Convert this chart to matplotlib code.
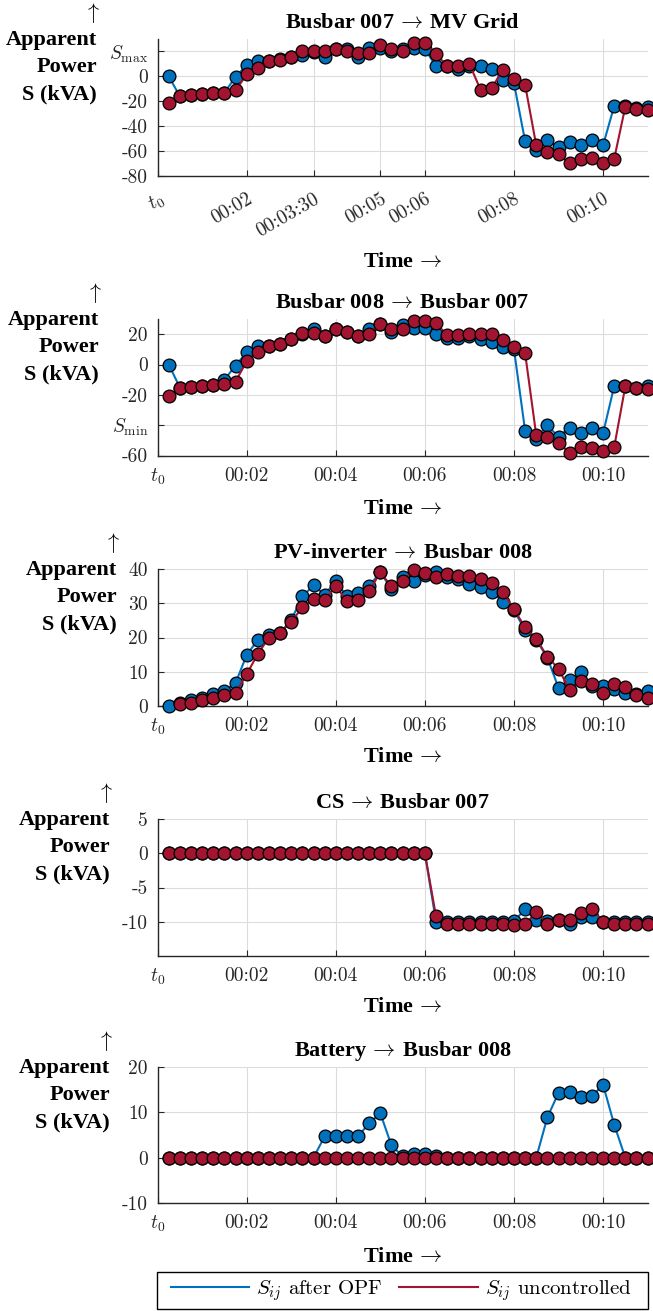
import numpy as np
import matplotlib
matplotlib.use("Agg")
import matplotlib.pyplot as plt
from matplotlib.lines import Line2D
from matplotlib.patches import Rectangle

# time axis: one sample every 15 s, in minutes
minutes = np.arange(1, 45) * 0.25

titles = [r"Busbar 007$\,\rightarrow\,$MV Grid", r"Busbar 008$\,\rightarrow\,$Busbar 007",
          r"PV-inverter$\,\rightarrow\,$Busbar 008", r"CS$\,\rightarrow\,$Busbar 007",
          r"Battery$\,\rightarrow\,$Busbar 008"]

# S_ij after OPF / S_ij uncontrolled (kVA)
bus7_grid_opf = [0, -16, -15, -14, -13.5, -13, -0.5, 9, 12, 12, 14, 15.7, 16.8, 19.7, 15.7,
                 22, 22, 15.7, 22.7, 22.7, 20, 22, 23, 22, 8, 8, 6, 8, 8.6, 6, -2.7, -5.4,
                 -52, -59.5, -51.4, -56.8, -52.7, -55.4, -51.4, -55.4, -23.8, -24, -25.5, -24.3]
bus7_grid_unc = [-21, -16, -15, -14, -13.5, -13, -11.3, 1.5, 7, 12, 13.5, 15.5, 20, 20, 20,
                 22, 20, 19, 19, 25, 22, 20, 27, 27, 17.6, 8.6, 8.6, 10, -10.8, -9.5, 5.4, -2,
                 -6.8, -55.4, -60.8, -62.7, -69.7, -66, -65.4, -69.7, -66.2, -24.3, -26.2, -27]

bus8_bus7_opf = [0, -15.2, -15, -14.3, -13.8, -10, -0.7, 8, 12.4, 12.4, 13.5, 17, 20, 23.6, 18.9,
                 23.6, 21.3, 19, 23.6, 26.8, 21.3, 26, 24, 24, 20, 17.7, 17.7, 18.9, 17, 15, 11.4,
                 10.2, -43.6, -48.9, -40.2, -47.7, -41.6, -45, -42, -45.4, -14.3, -14, -15.5, -14.3]
bus8_bus7_unc = [-20.7, -15.2, -15, -14.3, -13.8, -13, -11.3, 2.2, 8, 12.4, 13.5, 17, 21, 21, 18.9,
                 23.6, 21.3, 19, 20, 26.8, 23.6, 23.6, 28.4, 28.4, 27.3, 19.3, 19.3, 19.8, 19.8,
                 19.8, 16.4, 11.4, 7.5, -46.6, -47.7, -51.6, -58.4, -54.5, -55, -56.8, -54.5,
                 -14.3, -15.5, -16.4]

pv_opf = [0, 0.9, 1.7, 2.4, 3.4, 4.4, 6.7, 14.9, 19.3, 20.7, 21.4, 25.1, 32, 35.2, 32.5, 36.4,
          32, 33.1, 35.1, 39, 34.2, 37.6, 36.4, 38.3, 39.1, 37.8, 37, 35.6, 34.6, 33.4, 30.5,
          27.9, 22.2, 19.3, 14.1, 5.3, 7.5, 9.8, 5.9, 5.9, 5.1, 3.8, 3.6, 4.4]
pv_unc = [np.nan, 0.5, 0.9, 1.7, 2.2, 3.1, 3.8, 9.3, 15.2, 20, 21.4, 24.6, 28.8, 31.3, 31, 34.9,
          30.7, 31, 33.6, 39, 34.9, 36.4, 39.6, 38.8, 37.8, 38.6, 38, 38.1, 37.1, 35.9, 33.4,
          28.2, 23, 19.6, 14.4, 10.9, 4.6, 7.2, 6.5, 3.8, 6.5, 5.6, 3.3, 2.3]

cs_opf = [0, 0, 0, 0, 0, 0, 0, 0, 0, 0, 0, 0, 0, 0, 0, 0, 0, 0, 0, 0, 0, 0, 0, 0,
          -10, -10, -10, -10, -10, -10, -10, -9.9, -8.2, -9.8, -9.9, -9.7, -10.3, -9.3, -9.3,
          -10, -10, -10, -10, -10]
cs_unc = [0, 0, 0, 0, 0, 0, 0, 0, 0, 0, 0, 0, 0, 0, 0, 0, 0, 0, 0, 0, 0, 0, 0, 0,
          -9.2, -10.4, -10.4, -10.4, -10.4, -10.4, -10.4, -10.5, -10.4, -8.6, -10.3, -9.8, -9.7,
          -8.7, -8.2, -10, -10.4, -10.4, -10.4, -10.4]

bat_opf = [0, 0, 0, 0, 0, 0, 0, 0, 0, 0, 0, 0, 0, 0, 4.7, 4.7, 4.7, 4.7, 7.6, 9.8, 2.7, 0.3,
           0.8, 0.8, 0.3, 0, 0, 0, 0, 0, 0, 0, 0, 0, 8.9, 14.3, 14.4, 13.3, 13.5, 16.1, 7.3, 0, 0, 0]
bat_unc = [0, 0, 0, 0, 0, 0, 0, 0, 0, 0, 0, 0, 0, 0, 0, 0, 0, 0, 0, 0, 0, 0,
           0, 0, 0, 0, 0, 0, 0, 0, 0, 0, 0, 0, 0, 0, 0, 0, 0, 0, 0, 0, 0, 0]

ylims = [(-80, 30), (-60, 30), (0, 40), (-15, 5), (-10, 20)]
yticks = [[-80, -60, -40, -20, 0, 20], [-60, -40, -20, 0, 20], [0, 10, 20, 30, 40],
          [-10, -5, 0, 5], [-10, 0, 10, 20]]
yticklabels = [["-80", "-60", "-40", "-20", "0", r"$S_{\max}$"],
               ["-60", r"$S_{\min}$", "-20", "0", "20"],
               ["0", "10", "20", "30", "40"],
               ["-10", "-5", "0", "5"],
               ["-10", "0", "10", "20"]]
xticks_top = [0, 2, 3.5, 5, 6, 8, 10]
xticklabels_top = [r"$t_0$", "00:02", "00:03:30", "00:05", "00:06", "00:08", "00:10"]
xticks = [0, 2, 4, 6, 8, 10]
xticklabels = [r"$t_0$", "00:02", "00:04", "00:06", "00:08", "00:10"]

series = [(bus7_grid_opf, bus7_grid_unc), (bus8_bus7_opf, bus8_bus7_unc), (pv_opf, pv_unc),
          (cs_opf, cs_unc), (bat_opf, bat_unc)]

plt.rcParams['mathtext.fontset'] = 'cm'
plt.rcParams['axes.unicode_minus'] = False

W, H = 653, 1311
fig = plt.figure(figsize=(W / 100, H / 100), dpi=100)

blue = '#0072BD'
red = '#A2142F'
serif = ['Liberation Serif', 'DejaVu Serif']
cmfont = ['cmr10', 'DejaVu Serif']

left, right = 157.6, 647.6
tops = [39, 319, 569, 819, 1067]
bottoms = [176, 455.5, 706, 956, 1203]
label_dx = [60.6, 58.6, 40.6, 47.6, 47.6]
time_dy = [86, 53, 51, 51, 54]
cx = (left + right) / 2

for i in range(5):
    top, bot = tops[i], bottoms[i]
    ax = fig.add_axes([left / W, 1 - bot / H, (right - left) / W, (bot - top) / H])
    opf, unc = series[i]
    ax.plot(minutes, opf, '-o', color=blue, mfc=blue, mec='black', ms=9.2, mew=0.9, lw=1.5,
            clip_on=False, zorder=3)
    ax.plot(minutes, unc, '-o', color=red, mfc=red, mec='black', ms=9.2, mew=0.9, lw=1.5,
            clip_on=False, zorder=4)
    ax.set_xlim(0, 11)
    ax.set_ylim(*ylims[i])
    ax.set_yticks(yticks[i])
    ax.set_yticklabels(yticklabels[i], fontfamily=cmfont, fontsize=14)
    if i == 0:
        ax.set_xticks(xticks_top)
        ax.set_xticklabels(xticklabels_top, fontfamily=cmfont, fontsize=14, rotation=30,
                           ha='right', va='top', rotation_mode='anchor')
    else:
        ax.set_xticks(xticks)
        ax.set_xticklabels(xticklabels, fontfamily=cmfont, fontsize=14)
    ax.grid(True, color='#dcdcdc', lw=0.8)
    ax.set_axisbelow(True)
    for s in ['top', 'right']:
        ax.spines[s].set_visible(False)
    for s in ['left', 'bottom']:
        ax.spines[s].set_color('#262626')
        ax.spines[s].set_linewidth(1.0)
    ax.tick_params(direction='in', length=4, width=0.8, colors='#262626', labelcolor='#262626')
    ax.tick_params(axis='y', pad=7)
    ax.tick_params(axis='x', pad=10 if i == 0 else 8)

    # title and axis labels
    fig.text(cx / W, 1 - (top - 16) / H, titles[i], ha='center', va='center',
             fontsize=16, fontweight='bold', family=serif)
    fig.text(cx / W, 1 - (bot + time_dy[i]) / H, r"Time$\,\rightarrow$", ha='center',
             va='center', fontsize=16, fontweight='bold', family=serif)
    xr = (left - label_dx[i]) / W
    fig.text(xr - 5 / W, 1 - (top - 26) / H, r"$\uparrow$", ha='center', va='center',
             fontsize=16)
    for off, line in zip([1, 28, 55], ["Apparent", "Power", "S (kVA)"]):
        fig.text(xr, 1 - (top + off) / H, line, ha='right', va='center', fontsize=16,
                 fontweight='bold', family=serif)

# legend: frame drawn separately so the padding matches
fig.patches.append(Rectangle((157 / W, 1 - 1309 / H), 491 / W, 37 / H, transform=fig.transFigure,
                             fill=False, ec='black', lw=1.0))
handles = [Line2D([], [], color=blue, lw=1.5), Line2D([], [], color=red, lw=1.5)]
leg = fig.legend(handles, [r"$S_{ij}$ after OPF", r"$S_{ij}$ uncontrolled"], ncol=2,
                 loc='center left', bbox_to_anchor=(171 / W, 1 - 1290.5 / H),
                 prop={'family': cmfont, 'size': 15}, frameon=False, borderpad=0,
                 borderaxespad=0, handlelength=3.75, handletextpad=0.35, columnspacing=0.8)

fig.savefig("out.png", dpi=100)
